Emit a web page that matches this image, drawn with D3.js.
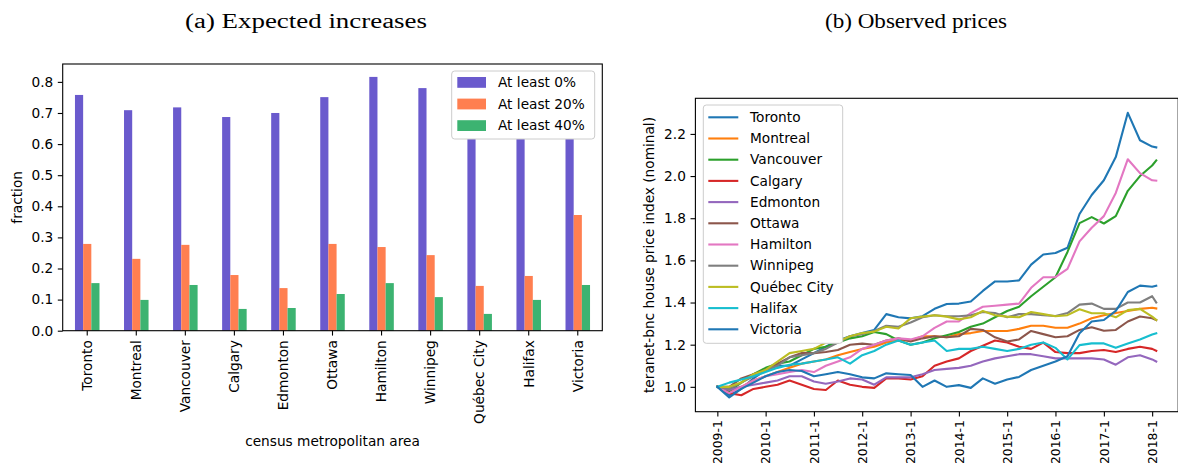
<!DOCTYPE html>
<html>
<head>
<meta charset="utf-8">
<script src="https://cdn.jsdelivr.net/npm/d3@7"></script>
<style>
  html, body { margin: 0; padding: 0; background: #fff; overflow: hidden; }
  svg { display: block; font-family: "DejaVu Sans", sans-serif; }
</style>
</head>
<body>
<svg id="fig" width="1178" height="466"></svg>
<script>
// ---------- (a) survey: share of respondents expecting at least a given increase ----------
const cities = ["Toronto", "Montreal", "Vancouver", "Calgary", "Edmonton", "Ottawa",
                "Hamilton", "Winnipeg", "Québec City", "Halifax", "Victoria"];
const seriesNames = ["At least 0%", "At least 20%", "At least 40%"];
const atLeast0  = [0.758, 0.709, 0.718, 0.687, 0.700, 0.751, 0.816, 0.780, 0.740, 0.720, 0.770];
const atLeast20 = [0.279, 0.231, 0.276, 0.179, 0.137, 0.279, 0.269, 0.243, 0.144, 0.176, 0.372];
const atLeast40 = [0.153, 0.099, 0.147, 0.070, 0.073, 0.118, 0.153, 0.108, 0.054, 0.099, 0.147];
const barColors = ["#6a5acd", "#ff7f50", "#3cb371"];
const fractionTicks = [0.0, 0.1, 0.2, 0.3, 0.4, 0.5, 0.6, 0.7, 0.8];

// ---------- (b) Teranet-National Bank house price index, normalised to Jan 2009 ----------
const months = [
  "2009-01", "2009-04", "2009-07", "2009-10",
  "2010-01", "2010-04", "2010-07", "2010-10",
  "2011-01", "2011-04", "2011-07", "2011-10",
  "2012-01", "2012-04", "2012-07", "2012-10",
  "2013-01", "2013-04", "2013-07", "2013-10",
  "2014-01", "2014-04", "2014-07", "2014-10",
  "2015-01", "2015-04", "2015-07", "2015-10",
  "2016-01", "2016-04", "2016-07", "2016-10",
  "2017-01", "2017-04", "2017-07", "2017-10",
  "2018-01", "2018-02"
];
const toronto = [1.0, 0.96, 0.99, 1.04, 1.08, 1.10, 1.10, 1.13, 1.16, 1.19, 1.22, 1.24,
  1.255, 1.27, 1.345, 1.33, 1.325, 1.335, 1.37, 1.393, 1.395, 1.405, 1.455, 1.50,
  1.50, 1.505, 1.58, 1.628, 1.635, 1.66, 1.82, 1.91, 1.98, 2.09, 2.30, 2.17, 2.14, 2.136];
const montreal = [1.0, 0.98, 1.0, 1.03, 1.05, 1.07, 1.09, 1.11, 1.12, 1.13, 1.15, 1.165,
  1.18, 1.19, 1.21, 1.22, 1.22, 1.24, 1.24, 1.235, 1.25, 1.255, 1.265, 1.265,
  1.265, 1.275, 1.29, 1.29, 1.28, 1.28, 1.30, 1.325, 1.34, 1.35, 1.36, 1.37, 1.375, 1.372];
const vancouver = [1.0, 0.98, 1.02, 1.06, 1.09, 1.11, 1.12, 1.15, 1.18, 1.19, 1.21, 1.23,
  1.24, 1.26, 1.25, 1.22, 1.20, 1.21, 1.23, 1.245, 1.26, 1.285, 1.30, 1.33,
  1.36, 1.38, 1.43, 1.475, 1.52, 1.64, 1.777, 1.805, 1.775, 1.81, 1.93, 2.00, 2.05, 2.074];
const calgary = [1.0, 0.97, 0.96, 0.99, 1.0, 1.01, 1.03, 1.01, 0.99, 0.985, 1.03, 1.01,
  1.0, 0.995, 1.04, 1.04, 1.035, 1.05, 1.10, 1.12, 1.135, 1.17, 1.195, 1.22,
  1.21, 1.19, 1.18, 1.21, 1.165, 1.16, 1.16, 1.17, 1.175, 1.165, 1.18, 1.19, 1.18, 1.171];
const edmonton = [1.0, 0.985, 1.0, 1.01, 1.02, 1.03, 1.05, 1.05, 1.025, 1.015, 1.025, 1.04,
  1.035, 1.01, 1.045, 1.045, 1.045, 1.06, 1.08, 1.085, 1.09, 1.10, 1.12, 1.135,
  1.145, 1.155, 1.155, 1.145, 1.135, 1.135, 1.135, 1.135, 1.13, 1.105, 1.14, 1.15, 1.13, 1.12];
const ottawa = [1.0, 1.0, 1.04, 1.06, 1.08, 1.11, 1.14, 1.16, 1.16, 1.165, 1.175, 1.20,
  1.205, 1.20, 1.22, 1.23, 1.215, 1.23, 1.24, 1.235, 1.24, 1.275, 1.27, 1.235,
  1.215, 1.225, 1.265, 1.25, 1.235, 1.24, 1.27, 1.283, 1.266, 1.27, 1.31, 1.334, 1.325, 1.317];
const hamilton = [1.0, 0.97, 1.0, 1.03, 1.05, 1.06, 1.07, 1.08, 1.07, 1.10, 1.12, 1.14,
  1.18, 1.20, 1.22, 1.23, 1.225, 1.24, 1.28, 1.31, 1.31, 1.35, 1.38, 1.385,
  1.39, 1.395, 1.47, 1.52, 1.52, 1.56, 1.69, 1.755, 1.81, 1.92, 2.08, 2.014, 1.98, 1.978];
const winnipeg = [1.0, 0.99, 1.02, 1.05, 1.08, 1.10, 1.14, 1.15, 1.16, 1.18, 1.21, 1.24,
  1.25, 1.265, 1.29, 1.285, 1.305, 1.33, 1.34, 1.335, 1.335, 1.34, 1.355, 1.35,
  1.33, 1.345, 1.345, 1.34, 1.336, 1.35, 1.39, 1.395, 1.37, 1.37, 1.40, 1.40, 1.43, 1.40];
const quebecCity = [1.0, 1.0, 1.02, 1.06, 1.08, 1.12, 1.16, 1.17, 1.18, 1.21, 1.215, 1.24,
  1.255, 1.262, 1.285, 1.277, 1.325, 1.333, 1.34, 1.333, 1.32, 1.33, 1.36, 1.34,
  1.333, 1.33, 1.355, 1.345, 1.335, 1.34, 1.368, 1.349, 1.349, 1.33, 1.364, 1.37, 1.333, 1.317];
const halifax = [1.0, 1.02, 1.035, 1.05, 1.07, 1.09, 1.105, 1.11, 1.12, 1.13, 1.14, 1.11,
  1.15, 1.17, 1.20, 1.22, 1.20, 1.21, 1.22, 1.17, 1.18, 1.18, 1.19, 1.18,
  1.17, 1.18, 1.20, 1.21, 1.185, 1.13, 1.198, 1.206, 1.206, 1.185, 1.206, 1.225, 1.248, 1.254];
const victoria = [1.0, 0.95, 0.99, 1.02, 1.05, 1.07, 1.08, 1.075, 1.05, 1.06, 1.07, 1.06,
  1.045, 1.04, 1.064, 1.06, 1.056, 1.00, 1.03, 1.00, 1.008, 0.995, 1.04, 1.015,
  1.035, 1.047, 1.08, 1.10, 1.12, 1.145, 1.254, 1.31, 1.317, 1.36, 1.45, 1.48, 1.475, 1.48];
const priceSeries = [toronto, montreal, vancouver, calgary, edmonton, ottawa,
                     hamilton, winnipeg, quebecCity, halifax, victoria];
const lineColors = ["#1f77b4", "#ff7f0e", "#2ca02c", "#d62728", "#9467bd", "#8c564b",
                    "#e377c2", "#7f7f7f", "#bcbd22", "#17becf", "#1f77b4"];
const priceTicks = [1.0, 1.2, 1.4, 1.6, 1.8, 2.0, 2.2];
const yearTicks = ["2009-01", "2010-01", "2011-01", "2012-01", "2013-01",
                   "2014-01", "2015-01", "2016-01", "2017-01", "2018-01"];

// ---------- shared styling ----------
const FONT = 13.7;
const TICK = 4.9;
const PAD = 4.6;
const svg = d3.select("#fig");

function styleAxis(g, size) {
  g.select(".domain").remove();
  g.selectAll(".tick line").attr("stroke", "#000").attr("stroke-width", 1.1);
  g.selectAll(".tick text").attr("fill", "#000")
    .style("font-size", (size || FONT) + "px").style("font-family", "'DejaVu Sans', sans-serif");
}

function frame(x0, y0, x1, y1) {
  svg.append("rect")
    .attr("x", x0).attr("y", y0).attr("width", x1 - x0).attr("height", y1 - y0)
    .attr("fill", "none").attr("stroke", "#000").attr("stroke-width", 1.1);
}

function title(text, cx, width) {
  svg.append("text")
    .attr("x", cx - width / 2).attr("y", 28)
    .attr("textLength", width).attr("lengthAdjust", "spacingAndGlyphs")
    .style("font-family", "'Liberation Serif', 'DejaVu Serif', serif")
    .style("font-size", "20px").attr("fill", "#000")
    .text(text);
}

// ================= panel (a): grouped bars =================
const A = { x0: 62.7, x1: 602.3, y0: 64, y1: 330.7 };

const xCat = d3.scaleBand().domain(cities).range([A.x0, A.x1])
  .paddingInner(0.5).paddingOuter(0.25);
const xSub = d3.scaleBand().domain(seriesNames).range([0, xCat.bandwidth()]);
const yFrac = d3.scaleLinear().domain([0, 0.8575]).range([A.y1, A.y0]);

const barValues = [atLeast0, atLeast20, atLeast40];
const barRows = [];
seriesNames.forEach((s, si) => {
  cities.forEach((c, ci) => barRows.push({ city: c, series: s, si, value: barValues[si][ci] }));
});

svg.append("g").selectAll("rect").data(barRows).join("rect")
  .attr("x", d => xCat(d.city) + xSub(d.series))
  .attr("width", xSub.bandwidth())
  .attr("y", d => yFrac(d.value))
  .attr("height", d => yFrac(0) - yFrac(d.value))
  .attr("fill", d => barColors[d.si]);

const axA_y = svg.append("g").attr("transform", `translate(${A.x0},0)`)
  .call(d3.axisLeft(yFrac).tickValues(fractionTicks).tickFormat(d3.format(".1f"))
    .tickSize(TICK).tickPadding(PAD));
styleAxis(axA_y);

const axA_x = svg.append("g").attr("transform", `translate(0,${A.y1})`)
  .call(d3.axisBottom(xCat).tickSize(TICK).tickPadding(PAD));
styleAxis(axA_x);
axA_x.selectAll(".tick text")
  .attr("y", 0).attr("x", -(TICK + PAD)).attr("dy", "0.35em")
  .attr("transform", "rotate(-90)").style("text-anchor", "end");

frame(A.x0, A.y0, A.x1, A.y1);

svg.append("text")
  .attr("transform", `translate(21.5,${(A.y0 + A.y1) / 2}) rotate(-90)`)
  .attr("text-anchor", "middle").style("font-size", FONT + "px").attr("fill", "#000")
  .text("fraction");
svg.append("text")
  .attr("x", (A.x0 + A.x1) / 2).attr("y", 446)
  .attr("text-anchor", "middle").style("font-size", FONT + "px").attr("fill", "#000")
  .text("census metropolitan area");

// legend for the bars
const legA = svg.append("g");
legA.append("rect").attr("x", 451.7).attr("y", 71).attr("width", 143).attr("height", 68)
  .attr("rx", 3).attr("fill", "#fff").attr("stroke", "#cccccc").attr("stroke-width", 1);
seriesNames.forEach((s, i) => {
  const cy = 82.4 + i * 21.6;
  legA.append("rect").attr("x", 457.3).attr("y", cy - 5.4).attr("width", 28.7).attr("height", 10.8)
    .attr("fill", barColors[i]);
  legA.append("text").attr("x", 498).attr("y", cy).attr("dy", "0.35em")
    .style("font-size", FONT + "px").attr("fill", "#000").text(s);
});

title("(a) Expected increases", 306, 242);

// ================= panel (b): price index lines =================
const B = { x0: 695.4, x1: 1178.2, y0: 98.3, y1: 411.7 };
const parseMonth = d3.timeParse("%Y-%m");
const dates = months.map(parseMonth);
const t0 = dates[0], t1 = dates[dates.length - 1];
const span = t1 - t0;
const xTime = d3.scaleTime()
  .domain([new Date(+t0 - 0.05 * span), new Date(+t1 + 0.05 * span)])
  .range([B.x0, B.x1]);
const yPrice = d3.scaleLinear().domain([0.882, 2.369]).range([B.y1, B.y0]);

const line = d3.line().x(d => xTime(d.date)).y(d => yPrice(d.value));
svg.append("g").selectAll("path").data(priceSeries).join("path")
  .attr("d", vals => line(vals.map((v, i) => ({ date: dates[i], value: v }))))
  .attr("fill", "none")
  .attr("stroke", (d, i) => lineColors[i])
  .attr("stroke-width", 2.1)
  .attr("stroke-linejoin", "round").attr("stroke-linecap", "square");

const axB_y = svg.append("g").attr("transform", `translate(${B.x0},0)`)
  .call(d3.axisLeft(yPrice).tickValues(priceTicks).tickFormat(d3.format(".1f"))
    .tickSize(TICK).tickPadding(PAD));
styleAxis(axB_y);

// date labels are set a little smaller so they fit above the bottom edge
const axB_x = svg.append("g").attr("transform", `translate(0,${B.y1})`)
  .call(d3.axisBottom(xTime).tickValues(yearTicks.map(parseMonth))
    .tickFormat(d3.timeFormat("%Y-%-m")).tickSize(TICK).tickPadding(3.6));
styleAxis(axB_x, 12.4);
axB_x.selectAll(".tick text")
  .attr("y", 0).attr("x", -(TICK + 3.6)).attr("dy", "0.35em")
  .attr("transform", "rotate(-90)").style("text-anchor", "end");

frame(B.x0, B.y0, B.x1, B.y1);

svg.append("text")
  .attr("transform", `translate(653.5,${(B.y0 + B.y1) / 2}) rotate(-90)`)
  .attr("text-anchor", "middle").style("font-size", FONT + "px").attr("fill", "#000")
  .text("teranet-bnc house price index (nominal)");

// legend for the lines
const legB = svg.append("g");
legB.append("rect").attr("x", 703.3).attr("y", 105).attr("width", 139.4).attr("height", 238.3)
  .attr("rx", 3).attr("fill", "#fff").attr("stroke", "#cccccc").attr("stroke-width", 1);
cities.forEach((c, i) => {
  const cy = 117.3 + i * 21.2;
  legB.append("line").attr("x1", 708.3).attr("x2", 738.3).attr("y1", cy).attr("y2", cy)
    .attr("stroke", lineColors[i]).attr("stroke-width", 2.1);
  legB.append("text").attr("x", 750).attr("y", cy).attr("dy", "0.35em")
    .style("font-size", FONT + "px").attr("fill", "#000").text(c);
});

title("(b) Observed prices", 916, 182);
</script>
</body>
</html>
